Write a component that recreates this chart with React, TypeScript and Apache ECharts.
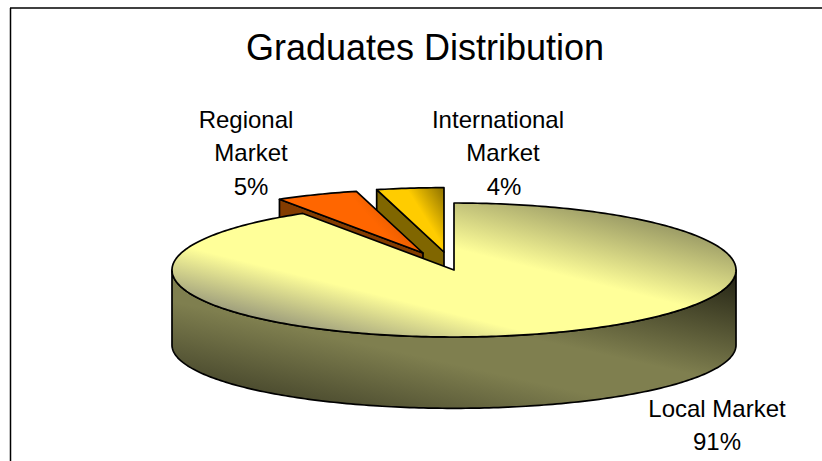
import React, { useEffect, useRef } from "react";
import * as echarts from "echarts";

const chartTitle = "Graduates Distribution";
const categories = ["Local Market", "Regional Market", "International Market"];
const values = [91, 5, 4];
const labelLines = [["Local Market", "91%"], ["Regional", "Market", "5%"], ["International", "Market", "4%"]];

const CX = 454, CY = 270, RX = 282, RY = 67, DEPTH = 75, BASE_SQUASH = 0.945;
const FONT = "'Liberation Sans', Arial, sans-serif";
const total = values.reduce((a, b) => a + b, 0);
const offsets = [[0, 0], [-31, -17], [-10, -18]];
const radiusScale = [1, 0.95, 0.96];
const labelX = [[717, 717], [246, 251, 251], [498, 503, 504]];
const labelY = [408, 119, 119];
const LINE_GAP = 33.7;
const topFills: any[] = [
  { type: "linear", global: true, x: 490, y: 185, x2: 444, y2: 369, colorStops: [
    { offset: 0, color: "#a0a068" }, { offset: 0.37, color: "#ffff99" }, { offset: 0.705, color: "#ffff99" }, { offset: 1, color: "#96967a" } ] },
  { type: "linear", global: true, x: 310, y: 250, x2: 400, y2: 170, colorStops: [
    { offset: 0, color: "#ff6600" }, { offset: 0.55, color: "#ff6600" }, { offset: 1, color: "#bf4d00" } ] },
  { type: "linear", global: true, x: 395, y: 225, x2: 450, y2: 190, colorStops: [
    { offset: 0, color: "#ffcc00" }, { offset: 0.45, color: "#ffcc00" }, { offset: 1, color: "#7f6600" } ] },
];
const wallFill = { type: "linear", global: true, x: 430, y: 440, x2: 478, y2: 225, colorStops: [
  { offset: 0, color: "#45452b" }, { offset: 0.36, color: "#7f7f4f" }, { offset: 0.55, color: "#7f7f4f" }, { offset: 1, color: "#2a2a18" } ] };
const cutFills = ["#7f7f4f", "#843c00", "#806600"];
const STROKE = { stroke: "#000", lineWidth: 1.7, lineJoin: "round" };

function arcPoints(i: number, a0: number, a1: number, dy = 0) {
  const pts: number[][] = [];
  const steps = Math.max(4, Math.ceil(Math.abs(a1 - a0) * 60));
  const [ox, oy] = offsets[i];
  const s = radiusScale[i];
  for (let k = 0; k <= steps; k++) {
    const a = a0 + ((a1 - a0) * k) / steps;
    pts.push([CX + ox + RX * s * Math.sin(a), CY + oy + dy - RY * s * Math.cos(a)]);
  }
  return pts;
}

function renderSlice(_params: any, api: any) {
  const i = api.value(0);
  const before = values.slice(0, i).reduce((a, b) => a + b, 0);
  const a0 = (before / total) * Math.PI * 2;
  const a1 = ((before + api.value(1)) / total) * Math.PI * 2;
  const apex = [CX + offsets[i][0], CY + offsets[i][1]];
  const children: any[] = [];
  const outer = arcPoints(i, a0, a1);
  if (i === 0) {
    const front = arcPoints(i, Math.PI / 2, (3 * Math.PI) / 2);
    const wall = [...front, ...[...front].reverse().map((p) => [p[0], CY + DEPTH + (p[1] - CY) * BASE_SQUASH])];
    children.push({ type: "polygon", shape: { points: wall }, style: { fill: wallFill, ...STROKE } });
  } else {
    const p = outer[0];
    const cut = [p, apex, [apex[0], apex[1] + DEPTH], [p[0], p[1] + DEPTH]];
    children.push({ type: "polygon", shape: { points: cut }, style: { fill: cutFills[i], ...STROKE } });
  }
  children.push({ type: "polygon", shape: { points: [apex, ...outer] }, style: { fill: topFills[i], ...STROKE } });
  labelLines[i].forEach((line, k) => {
    children.push({
      type: "text",
      z2: 100,
      style: {
        x: labelX[i][k], y: labelY[i] + k * LINE_GAP, text: line, fill: "#000",
        font: `24px ${FONT}`, align: "center", verticalAlign: "middle",
      },
    });
  });
  return { type: "group", children };
}

export default function App() {
  const ref = useRef<HTMLDivElement>(null);
  useEffect(() => {
    const chart = echarts.init(ref.current!, undefined, { renderer: "svg" });
    chart.setOption({
      animation: false,
      backgroundColor: "#fff",
      title: {
        text: chartTitle, left: 420, top: 24, textAlign: "center",
        textStyle: { fontFamily: FONT, fontSize: 36, fontWeight: "normal", color: "#000" },
      },
      graphic: [
        { type: "line", shape: { x1: 10.5, y1: 8, x2: 10.5, y2: 461 }, style: { stroke: "#000", lineWidth: 1.5 } },
        { type: "line", shape: { x1: 10, y1: 8, x2: 822, y2: 8 }, style: { stroke: "#000", lineWidth: 1.5 } },
      ],
      series: [{
        type: "custom",
        coordinateSystem: "none",
        renderItem: renderSlice,
        data: categories.map((name, i) => ({ name, value: [i, values[i]] })).reverse(),
      }],
    });
    return () => chart.dispose();
  }, []);
  return <div ref={ref} style={{ position: "fixed", left: 0, top: 0, width: 822, height: 461 }} />;
}
